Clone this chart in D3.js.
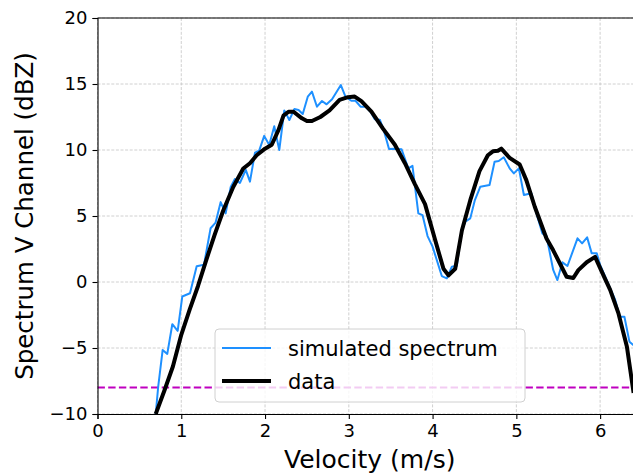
<!DOCTYPE html>
<html>
<head>
<meta charset="utf-8">
<script src="https://cdn.jsdelivr.net/npm/d3@7"></script>
<style>
  body { margin: 0; background: #fff; }
  svg { display: block; font-family: "DejaVu Sans", sans-serif; }
</style>
</head>
<body>
<div class="chart"></div>
<script>
// figure size and plot box
const w = 633;
const h = 474;
const pLeft = 97.5, pTop = 18, pRight = 642, pBottom = 414;

// simulated spectrum (blue)
const simVel = [0.695, 0.725, 0.778, 0.833, 0.893, 0.957, 1.012, 1.104, 1.184, 1.271,
                1.35, 1.41, 1.47, 1.53, 1.59, 1.64, 1.70, 1.77, 1.82, 1.88,
                1.93, 1.99, 2.05, 2.11, 2.17, 2.23, 2.29, 2.35, 2.40, 2.45,
                2.51, 2.56, 2.62, 2.68, 2.735, 2.80, 2.905, 2.96, 3.03, 3.08,
                3.14, 3.20, 3.26, 3.31, 3.37, 3.42, 3.48, 3.54, 3.63, 3.71,
                3.76, 3.83, 3.88, 3.94, 4.00, 4.11, 4.17, 4.23, 4.29, 4.34,
                4.39, 4.45, 4.505, 4.57, 4.68, 4.74, 4.79, 4.85, 4.92, 4.97,
                5.03, 5.09, 5.18, 5.24, 5.31, 5.36, 5.44, 5.49, 5.55, 5.61,
                5.73, 5.785, 5.845, 5.90, 5.96, 6.00, 6.18, 6.235, 6.29, 6.35, 6.40];
const simDbz = [-10, -7.9, -5.15, -5.45, -3.2, -3.7, -1.1, -0.85, 1.2, 1.3,
                4.07, 4.5, 6.05, 5.2, 7.2, 7.8, 7.5, 8.5, 7.6, 9.8,
                9.95, 11.07, 10.38, 11.8, 10.0, 13.0, 12.27, 13.1, 13.03, 12.73,
                14.04, 14.42, 13.28, 13.71, 13.46, 13.84, 14.92, 14.04, 13.73, 13.73,
                13.28, 13.28, 12.9, 12.32, 12.3, 11.45, 10.07, 10.1, 10.05, 8.61,
                8.8, 5.2, 5.07, 3.48, 2.68, 0.45, 0.28, 1.16, 1.23, 3.69,
                4.57, 4.82, 6.21, 7.22, 7.35, 9.11, 9.17, 9.45, 8.61, 8.23,
                8.61, 6.59, 6.72, 5.2, 3.69, 3.48, 0.91, 0.15, 1.49, 1.21,
                3.31, 2.93, 3.38, 2.17, 2.17, 1.29, -1.36, -2.63, -2.63, -4.52, -4.8];

// measured data (black)
const dataVel = [0.695, 0.80, 0.90, 1.00, 1.10, 1.20, 1.30, 1.40, 1.50, 1.62,
                 1.74, 1.82, 1.90, 2.00, 2.08, 2.16, 2.22, 2.28, 2.34, 2.44,
                 2.50, 2.56, 2.66, 2.77, 2.89, 2.99, 3.07, 3.15, 3.27, 3.41,
                 3.55, 3.67, 3.79, 3.91, 4.03, 4.13, 4.19, 4.27, 4.35, 4.45,
                 4.56, 4.66, 4.72, 4.78, 4.82, 4.92, 5.04, 5.12, 5.22, 5.36,
                 5.44, 5.52, 5.60, 5.68, 5.74, 5.84, 5.94, 6.04, 6.12, 6.22,
                 6.32, 6.40];
const dataDbz = [-10, -8.2, -6.4, -4.0, -2.1, -0.3, 1.7, 3.6, 5.4, 7.2,
                 8.6, 9.0, 9.6, 10.1, 10.4, 11.5, 12.6, 12.9, 12.9, 12.4,
                 12.2, 12.2, 12.5, 13.0, 13.8, 14.0, 14.05, 13.7, 12.9, 11.6,
                 10.4, 9.0, 7.4, 5.9, 3.2, 1.0, 0.5, 1.0, 3.9, 6.2,
                 8.4, 9.6, 9.9, 9.95, 10.1, 9.4, 8.9, 7.7, 5.7, 3.3,
                 2.4, 1.4, 0.4, 0.3, 0.9, 1.5, 1.9, 0.5, -0.6, -2.4,
                 -4.9, -8.4];

const threshold = -8;
const xTicks = [0, 1, 2, 3, 4, 5, 6];
const yTicks = [-10, -5, 0, 5, 10, 15, 20];
const seriesNames = ["simulated spectrum", "data"];

const svg = d3.select(".chart").append("svg")
  .attr("width", w)
  .attr("height", h);

const x = d3.scaleLinear().domain([0, 6.5]).range([pLeft, pRight]);
const y = d3.scaleLinear().domain([-10, 20]).range([pBottom, pTop]);

svg.append("defs").append("clipPath").attr("id", "plot")
  .append("rect")
  .attr("x", pLeft).attr("y", pTop)
  .attr("width", pRight - pLeft).attr("height", pBottom - pTop);

// grid
const grid = svg.append("g").attr("stroke", "#c4c4c4").attr("stroke-width", 0.8)
  .attr("stroke-dasharray", "3,1.6");
grid.selectAll(".gx").data(xTicks).enter().append("line")
  .attr("x1", d => x(d)).attr("x2", d => x(d))
  .attr("y1", pTop).attr("y2", pBottom);
grid.selectAll(".gy").data(yTicks).enter().append("line")
  .attr("x1", pLeft).attr("x2", pRight)
  .attr("y1", d => y(d)).attr("y2", d => y(d));

const plot = svg.append("g").attr("clip-path", "url(#plot)");

// threshold line
plot.append("line")
  .attr("x1", pLeft).attr("x2", pRight)
  .attr("y1", y(threshold)).attr("y2", y(threshold))
  .attr("stroke", "#bf00bf").attr("stroke-width", 2)
  .attr("stroke-dasharray", "7.4,3.3");

const line = d3.line().x(d => x(d[0])).y(d => y(d[1]));

plot.append("path")
  .datum(d3.zip(simVel, simDbz))
  .attr("d", line)
  .attr("fill", "none")
  .attr("stroke", "#1e90ff")
  .attr("stroke-width", 2)
  .attr("stroke-linejoin", "round");

plot.append("path")
  .datum(d3.zip(dataVel, dataDbz))
  .attr("d", line)
  .attr("fill", "none")
  .attr("stroke", "#000")
  .attr("stroke-width", 4)
  .attr("stroke-linejoin", "round");

// axes
const fmt = d => d < 0 ? "\u2212" + Math.abs(d) : String(d);

const xAxis = svg.append("g")
  .attr("transform", "translate(0," + pBottom + ")")
  .call(d3.axisBottom(x).tickValues(xTicks).tickFormat(fmt).tickSize(5).tickPadding(5));
const yAxis = svg.append("g")
  .attr("transform", "translate(" + pLeft + ",0)")
  .call(d3.axisLeft(y).tickValues(yTicks).tickFormat(fmt).tickSize(5).tickPadding(5));

[xAxis, yAxis].forEach(a => {
  a.select(".domain").attr("stroke", "#000").attr("stroke-width", 1.1);
  a.selectAll(".tick line").attr("stroke", "#000").attr("stroke-width", 1.1);
  a.selectAll(".tick text").attr("font-size", 18).attr("fill", "#000")
    .attr("font-family", "DejaVu Sans");
});

// top spine
svg.append("line")
  .attr("x1", pLeft).attr("x2", pRight)
  .attr("y1", pTop).attr("y2", pTop)
  .attr("stroke", "#000").attr("stroke-width", 1.1);

// axis labels
svg.append("text")
  .attr("x", (pLeft + pRight) / 2).attr("y", 468)
  .attr("text-anchor", "middle")
  .attr("font-size", 25)
  .text("Velocity (m/s)");

svg.append("text")
  .attr("transform", "translate(33," + ((pTop + pBottom) / 2) + ") rotate(-90)")
  .attr("text-anchor", "middle")
  .attr("font-size", 24.5)
  .text("Spectrum V Channel (dBZ)");

// legend
const legend = svg.append("g");
legend.append("rect")
  .attr("x", 215).attr("y", 329)
  .attr("width", 310).attr("height", 73)
  .attr("rx", 4)
  .attr("fill", "#fff").attr("fill-opacity", 0.8)
  .attr("stroke", "#d0d0d0");

const legColors = ["#1e90ff", "#000"];
const legWidths = [2, 4];
seriesNames.forEach((name, i) => {
  const ly = 348 + i * 33;
  legend.append("line")
    .attr("x1", 222).attr("x2", 271)
    .attr("y1", ly).attr("y2", ly)
    .attr("stroke", legColors[i]).attr("stroke-width", legWidths[i]);
  legend.append("text")
    .attr("x", 288).attr("y", ly + 7.5)
    .attr("font-size", 21)
    .text(name);
});
</script>
</body>
</html>
